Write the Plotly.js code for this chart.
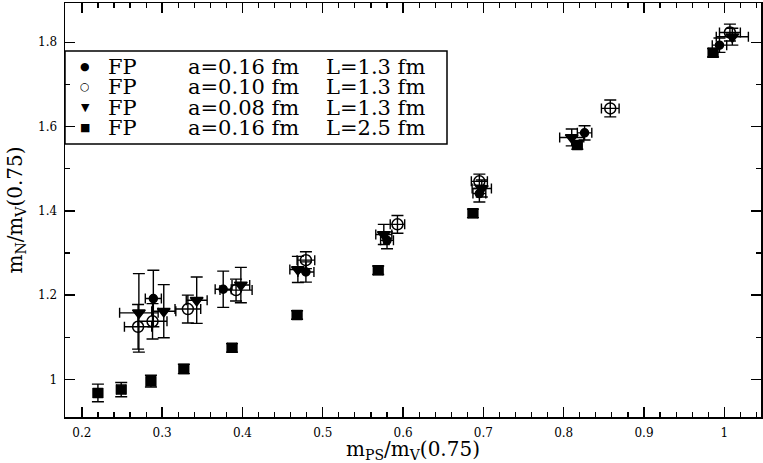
<!DOCTYPE html>
<html>
<head>
<meta charset="utf-8">
<script src="https://cdn.plot.ly/plotly-3.0.1.min.js"></script>
<style>
  html, body { margin: 0; padding: 0; background: #fff; }
  #chart { width: 763px; height: 463px; }
</style>
</head>
<body>
<div id="chart"></div>
<script>
// a=0.16 fm, L=1.3 fm (filled circles)
var fp16x  = [0.289, 0.376, 0.479, 0.580, 0.695, 0.826, 0.994];
var fp16y  = [1.192, 1.214, 1.255, 1.330, 1.441, 1.585, 1.793];
var fp16ex = [0.010, 0.010, 0.010, 0.008, 0.008, 0.009, 0.009];
var fp16ey = [0.067, 0.043, 0.024, 0.020, 0.020, 0.017, 0.017];

// a=0.10 fm, L=1.3 fm (open circles)
var fp10x  = [0.270, 0.288, 0.332, 0.392, 0.479, 0.593, 0.695, 0.858, 1.007];
var fp10y  = [1.125, 1.138, 1.167, 1.212, 1.283, 1.368, 1.470, 1.643, 1.823];
var fp10ex = [0.017, 0.018, 0.016, 0.020, 0.011, 0.009, 0.010, 0.011, 0.013];
var fp10ey = [0.053, 0.042, 0.033, 0.026, 0.020, 0.021, 0.017, 0.020, 0.020];

// a=0.08 fm, L=1.3 fm (down triangles)
var fp08x  = [0.271, 0.302, 0.343, 0.398, 0.469, 0.576, 0.698, 0.810, 1.010];
var fp08y  = [1.158, 1.162, 1.188, 1.224, 1.261, 1.344, 1.453, 1.574, 1.813];
var fp08ex = [0.024, 0.015, 0.013, 0.011, 0.010, 0.010, 0.012, 0.015, 0.020];
var fp08ey = [0.093, 0.063, 0.055, 0.042, 0.031, 0.024, 0.020, 0.020, 0.020];

// a=0.16 fm, L=2.5 fm (squares)
var fp16bx  = [0.220, 0.249, 0.286, 0.327, 0.387, 0.468, 0.569, 0.687, 0.817, 0.986];
var fp16by  = [0.968, 0.976, 0.996, 1.025, 1.075, 1.153, 1.259, 1.394, 1.556, 1.775];
var fp16bex = [0.006, 0.006, 0.006, 0.006, 0.006, 0.006, 0.006, 0.006, 0.006, 0.006];
var fp16bey = [0.021, 0.017, 0.014, 0.011, 0.010, 0.010, 0.010, 0.010, 0.010, 0.010];

// legend texts
var actions  = ['FP', 'FP', 'FP', 'FP'];
var spacings = ['a=0.16 fm', 'a=0.10 fm', 'a=0.08 fm', 'a=0.16 fm'];
var volumes  = ['L=1.3 fm', 'L=1.3 fm', 'L=1.3 fm', 'L=2.5 fm'];
var keys     = ['\u25CF', '\u25CB', '\u25BC', '\u25A0'];

var SERIF = 'DejaVu Serif, Liberation Serif, serif';

function errs(arr, w) {
  return {type: 'data', array: arr, visible: true, color: '#000', thickness: 1.4, width: w};
}

function makeTrace(xs, ys, exs, eys, symbol, size, name) {
  return {
    x: xs, y: ys, name: name,
    type: 'scatter', mode: 'markers',
    marker: {symbol: symbol, size: size, color: '#000', line: {color: '#000', width: 1.5}},
    error_x: errs(exs, 5),
    error_y: errs(eys, 6),
    showlegend: false,
    cliponaxis: false
  };
}

var data = [
  makeTrace(fp16bx, fp16by, fp16bex, fp16bey, 'square', 9, spacings[3] + ' ' + volumes[3]),
  makeTrace(fp16x, fp16y, fp16ex, fp16ey, 'circle', 8, spacings[0] + ' ' + volumes[0]),
  makeTrace(fp10x, fp10y, fp10ex, fp10ey, 'circle-open', 11, spacings[1] + ' ' + volumes[1]),
  makeTrace(fp08x, fp08y, fp08ex, fp08ey, 'triangle-down', 11, spacings[2] + ' ' + volumes[2])
];

// plot area in pixels, used to place the hand made legend
var PL = 65, PT = 3, PW = 696, PH = 414;
function px(v) { return (v - PL) / PW; }
function py(v) { return 1 - (v - PT) / PH; }

function legendText(x, y, txt, anchor, font) {
  return {xref: 'paper', yref: 'paper', x: px(x), y: y, text: txt,
    showarrow: false, xanchor: anchor, yanchor: 'middle', height: 19,
    font: font};
}

var annotations = [];
for (var i = 0; i < 4; i++) {
  var rowY = py(66 + 20.6 * i);
  var f = {family: SERIF, size: 21, color: '#000'};
  annotations.push(legendText(85, rowY, keys[i], 'center', {family: 'DejaVu Sans', size: 11, color: '#000'}));
  annotations.push(legendText(106, rowY, actions[i], 'left', f));
  annotations.push(legendText(186, rowY, spacings[i], 'left', f));
  annotations.push(legendText(324, rowY, volumes[i], 'left', f));
}

var axisCommon = {
  showline: true, linecolor: '#000', linewidth: 1.5, mirror: 'allticks',
  ticks: 'inside', ticklen: 10, tickwidth: 1.4, tickcolor: '#000',
  showgrid: false, zeroline: false,
  tickfont: {family: SERIF, size: 12, color: '#000'}
};

var layout = {
  width: 763, height: 463,
  margin: {l: PL, r: 2, t: PT, b: 46},
  paper_bgcolor: '#fff', plot_bgcolor: '#fff',
  showlegend: false,
  xaxis: Object.assign({}, axisCommon, {
    range: [0.179, 1.0457], tick0: 0.2, dtick: 0.1,
    minor: {dtick: 0.02, ticks: 'inside', ticklen: 5, tickwidth: 1.2, tickcolor: '#000'},
    ticklabelstandoff: 4,
    title: {text: 'm<sub>PS</sub>/m<sub>V</sub>(0.75)', font: {family: SERIF, size: 20, color: '#000'}, standoff: 2}
  }),
  yaxis: Object.assign({}, axisCommon, {
    range: [0.911, 1.893], tick0: 1.0, dtick: 0.2,
    minor: {dtick: 0.1, ticks: 'inside', ticklen: 5, tickwidth: 1.2, tickcolor: '#000'},
    ticklabelstandoff: 4,
    title: {text: 'm<sub>N</sub>/m<sub>V</sub>(0.75)', font: {family: SERIF, size: 20, color: '#000'}, standoff: 10}
  }),
  shapes: [{
    type: 'rect', xref: 'paper', yref: 'paper',
    x0: px(65), x1: px(447), y0: py(144), y1: py(51),
    line: {color: '#000', width: 1.5}, fillcolor: '#fff', layer: 'below'
  }],
  annotations: annotations
};

Plotly.newPlot('chart', data, layout, {displayModeBar: false, staticPlot: true});
</script>
</body>
</html>
